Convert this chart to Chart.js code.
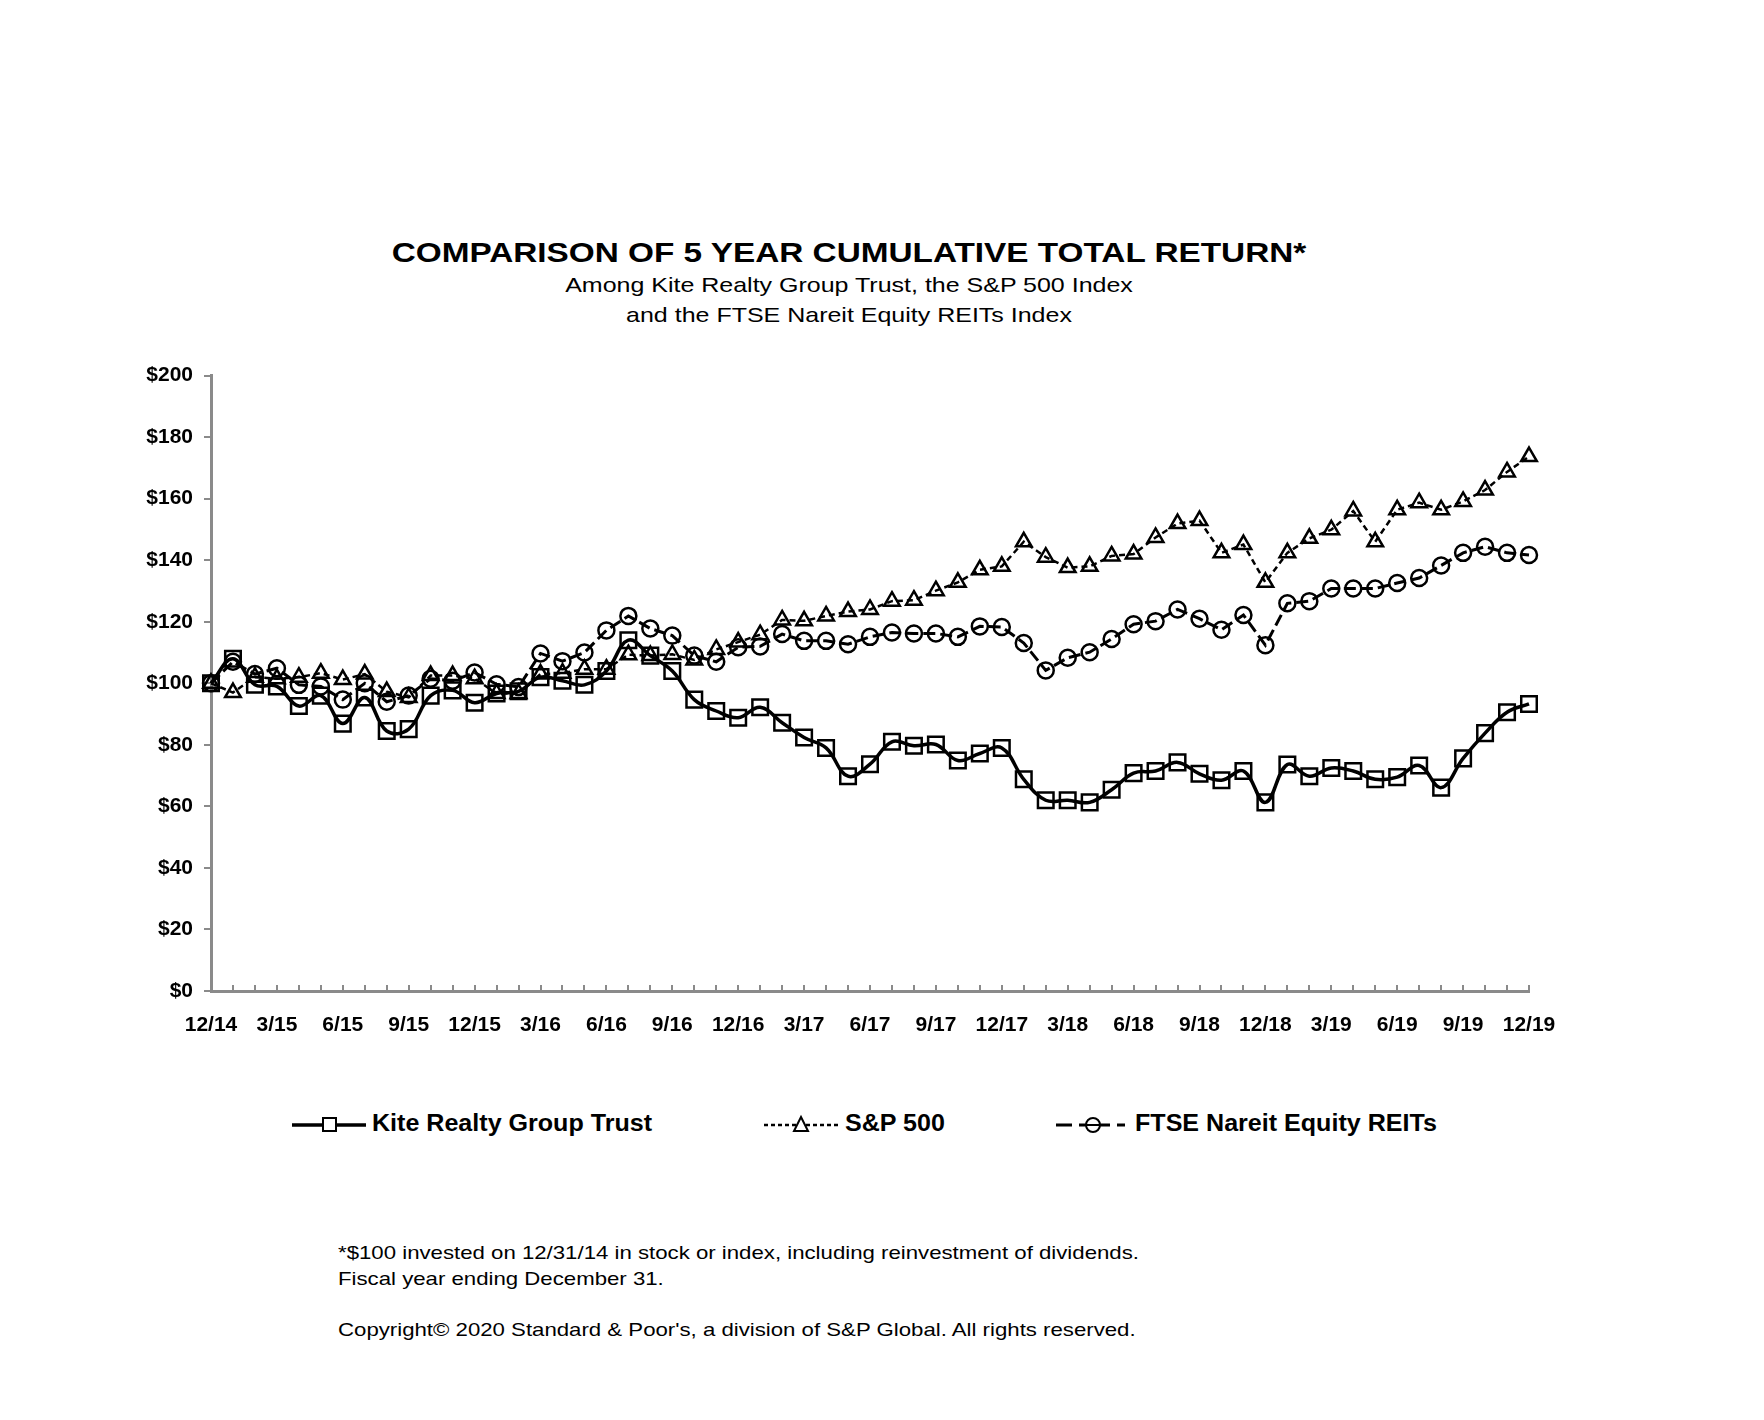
<!DOCTYPE html>
<html>
<head>
<meta charset="utf-8">
<script src="https://cdn.jsdelivr.net/npm/chart.js@4/dist/chart.umd.min.js"></script>
<style>
  body { margin: 0; width: 1764px; height: 1420px; background: #fff; position: relative; font-family: "Liberation Sans", Arial, sans-serif; color: #000; }
  .t { position: absolute; white-space: nowrap; }
  #title { left: 0; width: 1698px; top: 237px; text-align: center; font-weight: bold; font-size: 28px; transform: scaleX(1.19); transform-origin: 849px 0; }
  .sub { left: 0; width: 1698px; text-align: center; font-size: 21px; transform: scaleX(1.19); transform-origin: 849px 0; }
  #chartBox { position: absolute; left: 100px; top: 352px; }
  .leg { position: absolute; top: 1112px; height: 26px; }
  .legText { position: absolute; top: 1110px; font-weight: bold; font-size: 23px; transform: scaleX(1.09); transform-origin: 0 0; }
  .note { left: 338px; font-size: 18.5px; transform: scaleX(1.2); transform-origin: 0 0; }
</style>
</head>
<body>
<div class="t" id="title">COMPARISON OF 5 YEAR CUMULATIVE TOTAL RETURN*</div>
<div class="t sub" style="top:273px">Among Kite Realty Group Trust, the S&amp;P 500 Index</div>
<div class="t sub" style="top:303px">and the FTSE Nareit Equity REITs Index</div>

<div id="chartBox"><canvas id="trChart" width="1480" height="700"></canvas></div>

<svg class="leg" style="left:290px" width="80" height="26">
  <line x1="2" y1="13" x2="76" y2="13" stroke="#000" stroke-width="3.5"/>
  <rect x="33" y="6" width="13" height="13" fill="#fff" stroke="#000" stroke-width="2"/>
</svg>
<div class="legText" style="left:372px">Kite Realty Group Trust</div>

<svg class="leg" style="left:762px" width="80" height="26">
  <line x1="2" y1="13" x2="76" y2="13" stroke="#000" stroke-width="2.5" stroke-dasharray="4,3"/>
  <polygon points="39,5 46,19 32,19" fill="#fff" stroke="#000" stroke-width="2"/>
</svg>
<div class="legText" style="left:845px">S&amp;P 500</div>

<svg class="leg" style="left:1054px" width="80" height="26">
  <line x1="2" y1="13" x2="76" y2="13" stroke="#000" stroke-width="3" stroke-dasharray="16,7,8,7"/>
  <circle cx="39" cy="13" r="7" fill="#fff" stroke="#000" stroke-width="2"/>
  <line x1="33" y1="13" x2="45" y2="13" stroke="#000" stroke-width="2"/>
</svg>
<div class="legText" style="left:1135px">FTSE Nareit Equity REITs</div>

<div class="t note" style="top:1242px">*$100 invested on 12/31/14 in stock or index, including reinvestment of dividends.</div>
<div class="t note" style="top:1268px">Fiscal year ending December 31.</div>
<div class="t note" style="top:1319px">Copyright© 2020 Standard &amp; Poor's, a division of S&amp;P Global. All rights reserved.</div>

<script>
// months from 12/14 to 12/19 (x axis categories)
const months = [
  '12/14',
  '1/15','2/15','3/15','4/15','5/15','6/15','7/15','8/15','9/15','10/15','11/15','12/15',
  '1/16','2/16','3/16','4/16','5/16','6/16','7/16','8/16','9/16','10/16','11/16','12/16',
  '1/17','2/17','3/17','4/17','5/17','6/17','7/17','8/17','9/17','10/17','11/17','12/17',
  '1/18','2/18','3/18','4/18','5/18','6/18','7/18','8/18','9/18','10/18','11/18','12/18',
  '1/19','2/19','3/19','4/19','5/19','6/19','7/19','8/19','9/19','10/19','11/19','12/19'
];

// Kite Realty Group Trust
const kiteValues = [100,108,99.5,99,92.6,96,86.9,95.4,84.5,85.1,96,97.7,93.7,96.7,97.4,102,100.8,99.5,104,114,
  109,104,94.7,91,88.8,92.2,87.2,82.4,79,69.8,73.7,81,79.7,80.1,74.9,77.2,79,68.8,62,62,
  61.3,65.4,70.8,71.5,74.3,70.6,68.5,71.5,61.3,73.6,69.8,72.5,71.5,68.8,69.5,73.3,66.1,75.6,83.8,90.6,93.3];

// S&P 500
const spValues = [100,97,102,101.5,102,103.3,101.2,103,97.3,95.4,102.5,102.5,101.5,96.7,96.7,103,103.3,104.6,104.6,109.3,
  109,109.4,107.6,111,113.4,115.8,120.6,120.3,121.9,123.3,124,126.7,127,130.1,132.8,136.9,138,146,141,137.6,
  138,141.4,142,147.4,151.9,152.9,142.4,145.1,132.8,142.4,147.1,149.9,156,146,156.4,158.7,156.4,159.1,162.8,168.7,173.7];

// FTSE Nareit Equity REITs
const reitValues = [100,107,103,104.9,99.5,99,94.7,100,94,96,101.5,100.8,103.5,99.7,98.8,109.7,107.2,110,117.2,121.9,
  117.8,115.5,109,107,111.7,112,116,113.8,113.8,112.7,115.1,116.5,116.2,116.2,115.1,118.5,118.3,113.1,104.2,108.3,
  110.1,114.4,119.2,120.2,124,121,117.4,122.2,112.4,126,126.7,130.8,130.8,130.8,132.6,134.2,138.3,142.4,144.4,142.4,141.7];

const yTicks = [0, 20, 40, 60, 80, 100, 120, 140, 160, 180, 200];

const axisGray = '#8a8a8a';

// small inward tick marks on the x axis, one per month
const monthTicks = {
    id: 'monthTicks',
    afterDraw(chart) {
        const x = chart.scales.x;
        const ctx = chart.ctx;
        const yb = chart.chartArea.bottom;
        ctx.save();
        ctx.strokeStyle = axisGray;
        ctx.lineWidth = 2;
        ctx.beginPath();
        for (let i = 1; i < months.length; i++) {
            const px = Math.round(x.getPixelForValue(i));
            ctx.moveTo(px, yb);
            ctx.lineTo(px, yb - 6);
        }
        ctx.stroke();
        ctx.restore();
    }
};

new Chart(document.getElementById('trChart'), {
    type: 'line',
    data: {
        labels: months,
        datasets: [
            {
                label: 'FTSE Nareit Equity REITs',
                data: reitValues,
                borderColor: '#000',
                borderWidth: 3,
                borderDash: [12, 5],
                tension: 0,
                pointStyle: 'circle',
                pointRadius: 8,
                pointBorderWidth: 2.5,
                pointBorderColor: '#000',
                pointBackgroundColor: 'rgba(0,0,0,0)'
            },
            {
                label: 'S&P 500',
                data: spValues,
                borderColor: '#000',
                borderWidth: 2.5,
                borderDash: [6, 4],
                tension: 0,
                pointStyle: 'triangle',
                pointRadius: 9,
                pointBorderWidth: 2.5,
                pointBorderColor: '#000',
                pointBackgroundColor: 'rgba(0,0,0,0)'
            },
            {
                label: 'Kite Realty Group Trust',
                data: kiteValues,
                borderColor: '#000',
                borderWidth: 3.5,
                tension: 0.4,
                pointStyle: 'rect',
                pointRadius: 11,
                pointBorderWidth: 2.5,
                pointBorderColor: '#000',
                pointBackgroundColor: 'rgba(0,0,0,0)'
            }
        ]
    },
    options: {
        responsive: false,
        animation: false,
        devicePixelRatio: 1,
        layout: { padding: { top: 21, right: 51, left: 0, bottom: 0 } },
        plugins: { legend: { display: false }, tooltip: { enabled: false } },
        scales: {
            x: {
                type: 'category',
                offset: false,
                grid: { display: false },
                border: { display: true, color: axisGray, width: 3 },
                ticks: {
                    autoSkip: false,
                    maxRotation: 0,
                    minRotation: 0,
                    padding: 14,
                    color: '#000',
                    font: { family: 'Liberation Sans', weight: 'bold', size: 21 },
                    callback: (v, i) => (i % 3 === 0 ? months[i] : '')
                },
                afterFit: s => { s.height = 61; }
            },
            y: {
                min: 0,
                max: 200,
                afterBuildTicks: s => { s.ticks = yTicks.map(v => ({ value: v })); },
                grid: { drawOnChartArea: false, drawTicks: true, tickLength: 7, color: axisGray, lineWidth: 2 },
                border: { display: true, color: axisGray, width: 3 },
                ticks: {
                    padding: 11,
                    color: '#000',
                    font: { family: 'Liberation Sans', weight: 'bold', size: 21 },
                    callback: v => '$' + v
                },
                afterFit: s => { s.width = 111; }
            }
        }
    },
    plugins: [monthTicks]
});
</script>
</body>
</html>
